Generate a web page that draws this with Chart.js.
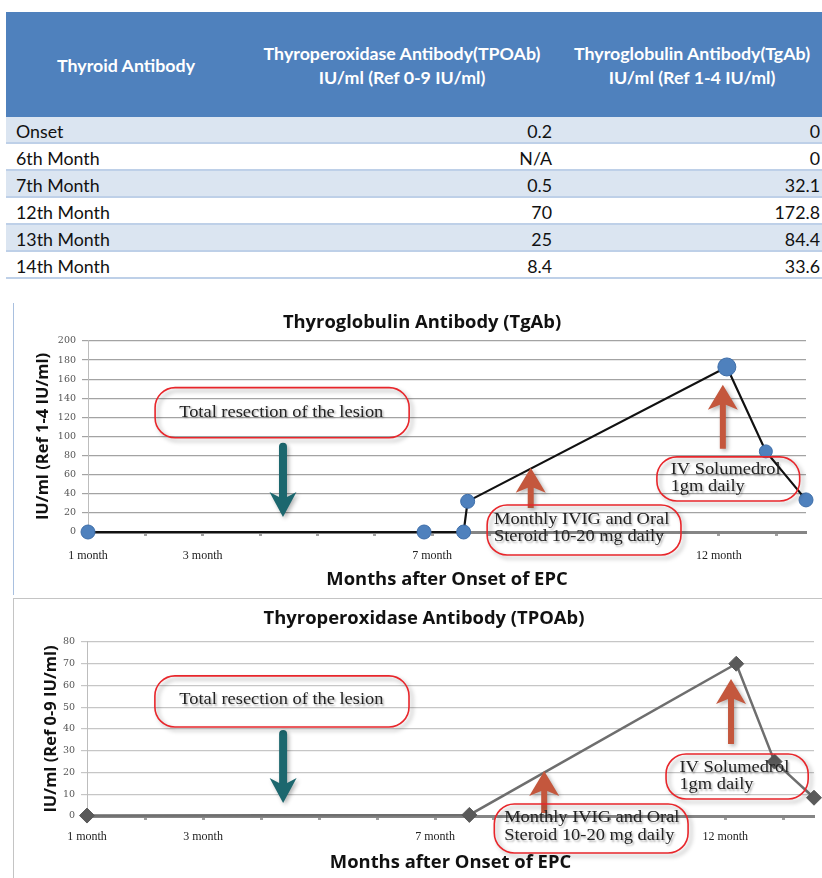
<!DOCTYPE html>
<html>
<head>
<meta charset="utf-8">
<script src="https://cdn.jsdelivr.net/npm/chart.js@4/dist/chart.umd.min.js"></script>
<style>
  html, body { margin: 0; padding: 0; background: #fff; }
  body { position: relative; width: 822px; height: 878px; overflow: hidden; }
  #tbl {
    position: absolute; left: 6px; top: 12px;
    border-collapse: collapse; table-layout: fixed; width: 820px;
    font-family: Lato, "Open Sans", sans-serif;
  }
  #tbl th {
    background: #4F81BD; color: #fff; font-weight: 700; font-size: 17.8px;
    height: 105px; padding: 0; text-align: center; line-height: 24px;
  }
  #tbl td {
    height: 22px; padding: 3px 6px 0 10px; font-size: 17.8px; color: #111;
    border-bottom: 2px solid #BED0E8; line-height: 22px; white-space: nowrap;
  }
  #tbl td.num { text-align: right; }
  #tbl tr.band td { background: #DBE5F1; }
  #panel1 {
    position: absolute; left: 13px; top: 303px; width: 809px; height: 292px;
    border-left: 1px solid #A9C0DF;
  }
  #panel2 {
    position: absolute; left: 13px; top: 598px; width: 820px; height: 290px;
    border: 1px solid #C4C4C4;
  }
  canvas { position: absolute; left: 0; top: 0; }
</style>
</head>
<body>
<table id="tbl">
  <colgroup><col style="width:240px"><col style="width:312px"><col style="width:268px"></colgroup>
  <thead><tr id="headRow"></tr></thead>
  <tbody id="bodyRows"></tbody>
</table>
<div id="panel1"><canvas id="tgChart" width="809" height="292"></canvas></div>
<div id="panel2"><canvas id="tpoChart" width="809" height="280"></canvas></div>

<script>
// ---- Antibody titres per visit ----
const visits = ['Onset', '6th Month', '7th Month', '12th Month', '13th Month', '14th Month'];
const tpoTable = ['0.2', 'N/A', '0.5', '70', '25', '8.4'];
const tgTable = ['0', '0', '32.1', '172.8', '84.4', '33.6'];
const tableHeaders = [
  ['Thyroid Antibody'],
  ['Thyroperoxidase Antibody(TPOAb)', 'IU/ml (Ref 0-9 IU/ml)'],
  ['Thyroglobulin Antibody(TgAb)', 'IU/ml (Ref 1-4 IU/ml)']
];

// ---- Thyroglobulin antibody curve (months after onset, IU/ml) ----
const tgMonths = [1, 6.86, 7.55, 7.62, 12.14, 12.82, 13.52];
const tgValues = [0, 0, 0, 32.1, 172.8, 84.4, 33.6];

// ---- Thyroperoxidase antibody curve ----
const tpoMonths = [1, 7.59, 12.19, 12.85, 13.53];
const tpoValues = [0.2, 0.5, 70, 25, 8.4];

// ---- x-axis labels ----
const monthTicks = [1, 3, 7, 12];
const monthTickLabels = ['1 month', '3 month', '7 month', '12 month'];

// ---- build the table ----
const headRow = document.getElementById('headRow');
tableHeaders.forEach(lines => {
  const th = document.createElement('th');
  th.innerHTML = lines.join('<br>');
  headRow.appendChild(th);
});
const body = document.getElementById('bodyRows');
visits.forEach((v, i) => {
  const tr = document.createElement('tr');
  if (i % 2 === 0) tr.className = 'band';
  [v, tpoTable[i], tgTable[i]].forEach((txt, c) => {
    const td = document.createElement('td');
    td.textContent = txt;
    if (c > 0) td.className = 'num';
    tr.appendChild(td);
  });
  body.appendChild(tr);
});

// ---- callouts drawn over each chart, placed in axis units ----
const redArrow = { color: '#C4573D', shaftW: 6, headW: 30, headL: 25 };
const tealArrow = { color: '#1C676E', shaftW: 8, headW: 27, headL: 25, round: true };

const tgNotes = {
  arrows: [
    { x: 4.40, from: 89.2, to: 15.7, style: tealArrow },
    { x: 8.72, from: 25.2, to: 67.2, style: redArrow },
    { x: 12.07, from: 87.1, to: 154.3, style: redArrow }
  ],
  boxes: [
    { x0: 2.17, x1: 6.60, top: 151.2, bottom: 98.7, align: 'center', tx: 4.37, ty: [124.9],
      lines: ['Total resection of the lesion'] },
    { x0: 7.96, x1: 11.34, top: 28.3, bottom: -24.1, align: 'left', tx: 8.08, ty: [12.6, -5.2],
      lines: ['Monthly IVIG and Oral', 'Steroid 10-20 mg daily'] },
    { x0: 10.92, x1: 13.41, top: 78.7, bottom: 32.5, align: 'left', tx: 11.16, ty: [65.1, 47.2],
      lines: ['IV Solumedrol', '1gm daily'] }
  ]
};

const tpoNotes = {
  arrows: [
    { x: 4.38, from: 37.7, to: 6.0, style: tealArrow },
    { x: 8.88, from: 1.4, to: 20.7, style: redArrow },
    { x: 12.10, from: 33.1, to: 63.0, style: redArrow }
  ],
  boxes: [
    { x0: 2.17, x1: 6.55, top: 64.4, bottom: 40.9, align: 'center', tx: 4.35, ty: [53.3],
      lines: ['Total resection of the lesion'] },
    { x0: 8.02, x1: 11.36, top: 5.5, bottom: -17.0, align: 'left', tx: 8.19, ty: [-0.9, -9.2],
      lines: ['Monthly IVIG and Oral', 'Steroid 10-20 mg daily'] },
    { x0: 10.98, x1: 13.43, top: 28.5, bottom: 7.8, align: 'left', tx: 11.21, ty: [22.1, 14.3],
      lines: ['IV Solumedrol', '1gm daily'] }
  ]
};

function drawArrow(ctx, px, yTail, yTip, st) {
  const dir = yTip < yTail ? -1 : 1;
  const hw = st.headW / 2, sw = st.shaftW / 2;
  const yBase = yTip - dir * st.headL;
  const yNotch = yTip - dir * st.headL * 0.8;
  ctx.save();
  ctx.shadowColor = 'rgba(0,0,0,0.3)';
  ctx.shadowBlur = 4;
  ctx.shadowOffsetX = 2;
  ctx.shadowOffsetY = 2;
  ctx.fillStyle = st.color;
  ctx.beginPath();
  ctx.moveTo(px, yTip);
  ctx.lineTo(px + hw, yBase);
  ctx.lineTo(px + sw, yNotch);
  ctx.lineTo(px + sw, yTail);
  if (st.round) ctx.arc(px, yTail, sw, 0, Math.PI, dir > 0);
  else ctx.lineTo(px - sw, yTail);
  ctx.lineTo(px - sw, yNotch);
  ctx.lineTo(px - hw, yBase);
  ctx.closePath();
  ctx.fill();
  ctx.restore();
}

function drawBox(ctx, b, xs, ys) {
  const l = xs.getPixelForValue(b.x0), r = xs.getPixelForValue(b.x1);
  const t = ys.getPixelForValue(b.top), btm = ys.getPixelForValue(b.bottom);
  const rad = Math.min((btm - t) / 2, 20);
  ctx.save();
  ctx.shadowColor = 'rgba(0,0,0,0.35)';
  ctx.shadowBlur = 4;
  ctx.shadowOffsetX = 3;
  ctx.shadowOffsetY = 3;
  ctx.strokeStyle = '#E8262B';
  ctx.lineWidth = 1.6;
  ctx.beginPath();
  ctx.roundRect(l, t, r - l, btm - t, rad);
  ctx.stroke();
  ctx.restore();

  const tx = xs.getPixelForValue(b.tx);
  b.lines.forEach((line, i) => {
    ctx.save();
    ctx.translate(tx, ys.getPixelForValue(b.ty[i]));
    ctx.scale(1.15, 1);
    ctx.font = '16px "Liberation Serif", "Times New Roman", serif';
    ctx.fillStyle = '#222';
    ctx.textAlign = b.align;
    ctx.textBaseline = 'middle';
    ctx.shadowColor = 'rgba(0,0,0,0.3)';
    ctx.shadowBlur = 2;
    ctx.shadowOffsetX = 1.5;
    ctx.shadowOffsetY = 1.5;
    ctx.fillText(line, 0, 0);
    ctx.restore();
  });
}

function notesPlugin(notes) {
  return {
    id: 'callouts',
    afterDatasetsDraw(chart) {
      const { ctx, scales } = chart;
      notes.arrows.forEach(a => drawArrow(ctx, scales.x.getPixelForValue(a.x),
        scales.y.getPixelForValue(a.from), scales.y.getPixelForValue(a.to), a.style));
      notes.boxes.forEach(b => drawBox(ctx, b, scales.x, scales.y));
    }
  };
}

Chart.defaults.font.family = '"Open Sans", sans-serif';
Chart.defaults.color = '#222';

function makeChart(id, cfg) {
  const points = cfg.months.map((m, i) => ({ x: m, y: cfg.values[i] }));
  return new Chart(document.getElementById(id), {
    type: 'line',
    data: {
      datasets: [{
        data: points,
        borderColor: cfg.lineColor,
        borderWidth: cfg.lineWidth,
        tension: 0,
        clip: false,
        pointStyle: cfg.pointStyle,
        pointRadius: cfg.pointRadius,
        pointBackgroundColor: cfg.pointFill,
        pointBorderColor: cfg.pointBorder,
        pointBorderWidth: 1
      }]
    },
    options: {
      responsive: false,
      animation: false,
      events: [],
      layout: { padding: { left: cfg.padLeft, right: cfg.padRight, top: 0, bottom: 0 } },
      plugins: {
        legend: { display: false },
        tooltip: { enabled: false },
        title: {
          display: true, text: cfg.title, color: '#111',
          font: { size: 18.4, weight: 'bold', lineHeight: 1.2 },
          padding: { top: 9, bottom: cfg.titleGap }
        }
      },
      scales: {
        x: {
          type: 'linear', min: 1, max: cfg.xMax,
          afterFit: s => { s.height = 63; },
          border: { display: true, color: '#858585', width: 3 },
          grid: { display: true, drawOnChartArea: false, drawTicks: true, tickLength: 4, tickWidth: 3, tickColor: '#A0A0A0' },
          ticks: {
            stepSize: 1, includeBounds: false, autoSkip: false, maxRotation: 0, padding: cfg.xTickPad,
            color: '#222', font: { family: '"Liberation Serif", serif', size: 12 },
            callback: v => { const i = monthTicks.indexOf(v); return i >= 0 ? monthTickLabels[i] : ''; }
          },
          title: {
            display: true, text: 'Months after Onset of EPC', color: '#111',
            font: { size: 18.4, weight: 'bold', lineHeight: 1.2 },
            padding: { top: 0, bottom: cfg.xTitlePad }
          }
        },
        y: {
          min: 0, max: cfg.yMax,
          afterFit: s => { s.width = cfg.yWidth; },
          border: { display: true, color: '#BDBDBD', width: 1 },
          grid: { color: cfg.gridColor, lineWidth: 1.2, tickLength: 6, tickColor: cfg.gridColor },
          ticks: {
            stepSize: cfg.yStep, padding: 6, color: '#555',
            font: { family: '"DejaVu Serif", serif', size: 9.5 }
          },
          title: {
            display: true, text: cfg.yTitle, color: '#111',
            font: { size: 16.5, weight: 'bold', lineHeight: 1.2 },
            padding: { top: cfg.yTitlePad, bottom: 0 }
          }
        }
      }
    },
    plugins: [notesPlugin(cfg.notes)]
  });
}

makeChart('tgChart', {
  months: tgMonths, values: tgValues,
  title: 'Thyroglobulin Antibody (TgAb)', yTitle: 'IU/ml (Ref 1-4 IU/ml)',
  lineColor: '#111', lineWidth: 2.2,
  pointStyle: 'circle', pointRadius: [7, 7, 7, 7, 9, 6.5, 7],
  pointFill: '#4F81BD', pointBorder: '#3D6DA8',
  xMax: 13.52, yMax: 200, yStep: 20, gridColor: '#A3A3A3',
  padLeft: 24, padRight: 17, titleGap: 6.9, yWidth: 50, yTitlePad: -5, xTitlePad: 4, xTickPad: 13,
  notes: tgNotes
});

makeChart('tpoChart', {
  months: tpoMonths, values: tpoValues,
  title: 'Thyroperoxidase Antibody (TPOAb)', yTitle: 'IU/ml (Ref 0-9 IU/ml)',
  lineColor: '#6E6E6E', lineWidth: 2.5,
  pointStyle: 'rectRot', pointRadius: 7.5,
  pointFill: '#5A5A5A', pointBorder: '#5A5A5A',
  xMax: 13.53, yMax: 80, yStep: 10, gridColor: '#C6C6C6',
  padLeft: 20, padRight: 9, titleGap: 11.9, yWidth: 53, yTitlePad: 7, xTitlePad: 5, xTickPad: 10,
  notes: tpoNotes
});
</script>
</body>
</html>
